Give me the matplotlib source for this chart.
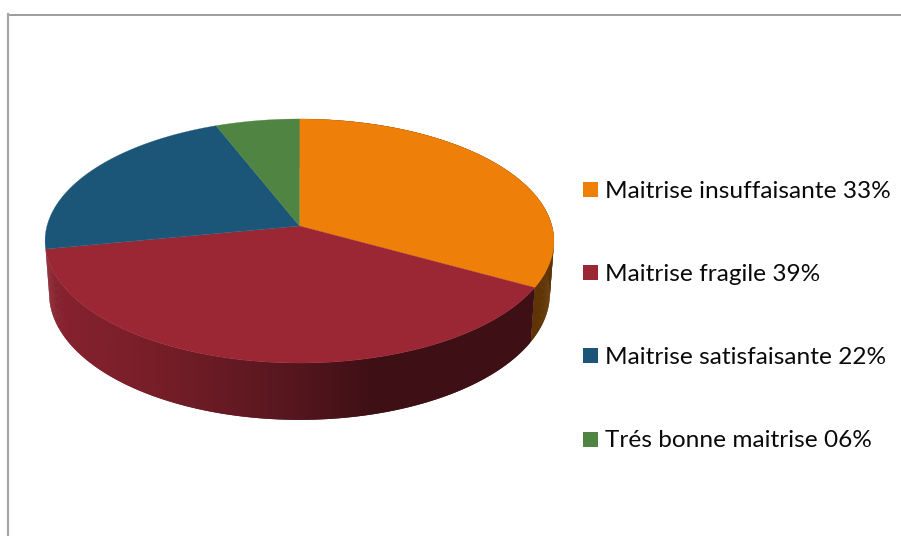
import numpy as np
import matplotlib.pyplot as plt
from matplotlib.colors import to_rgb
from matplotlib.patches import Rectangle

# data
labels = ["Maitrise insuffaisante 33%", "Maitrise fragile 39%",
          "Maitrise satisfaisante 22%", "Trés bonne maitrise 06%"]
values = [33, 39, 22, 6]
colors = ["#EE7F09", "#9B2735", "#1B5679", "#508443"]


# perspective view of the disc, angle is clockwise from the top
def project(theta, x0=299.5, y0=226.0, sx=1.0, sy=1.0):
    x = np.sin(theta)
    y = np.cos(theta)
    den = 1 + 0.123 * y
    return x0 + sx * 252.5 * x / den, y0 - sy * 120.2 * y / den


def wall_shade(x):
    return np.interp(x, [50, 150, 300, 370], [0.87, 0.77, 0.54, 0.40])


fig = plt.figure(figsize=(9.01, 5.36), dpi=100)
ax = fig.add_axes([0, 0, 1, 1])
ax.set_xlim(0, 901)
ax.set_ylim(536, 0)
ax.axis("off")

# frame
ax.plot([8, 901], [14.5, 14.5], color="#8c8c8c", lw=1.2)
ax.plot([8.3, 8.3], [14, 536], color="#a6a6a6", lw=1.6)

edges = np.cumsum([0] + values) / sum(values) * 2 * np.pi

# side of the pie, only the first two slices face the viewer
# each strip runs one step too far so no seams show between them
for i in [0, 1]:
    t = np.linspace(edges[i], edges[i + 1], int(values[i] * 8) + 2)
    xt, yt = project(t)
    xb, yb = project(t, y0=278.0, sx=0.984, sy=1.035)
    base = np.array(to_rgb(colors[i]))
    for j in range(len(t) - 1):
        k = min(j + 2, len(t) - 1)
        c = base * wall_shade((xt[j] + xt[k]) / 2)
        ax.fill(np.r_[xt[j:k + 1], xb[j:k + 1][::-1]],
                np.r_[yt[j:k + 1], yb[j:k + 1][::-1]],
                color=c, lw=0, zorder=2)

# top of the pie
for i in range(len(values)):
    t = np.linspace(edges[i], edges[i + 1], 200)
    xt, yt = project(t)
    ax.fill(np.r_[299.5, xt], np.r_[226, yt], color=colors[i], lw=0.2, zorder=3)

# legend
for i in range(len(labels)):
    y = 189.5 + 83.2 * i
    ax.add_patch(Rectangle((583, y - 7.5), 15, 15, color=colors[i], lw=0, zorder=4))
    ax.text(605, y + 1.8, labels[i], family="Lato", fontsize=17.6, color="#0a0a0a",
            va="center", ha="left", zorder=4)

fig.savefig("out.png", dpi=100)
